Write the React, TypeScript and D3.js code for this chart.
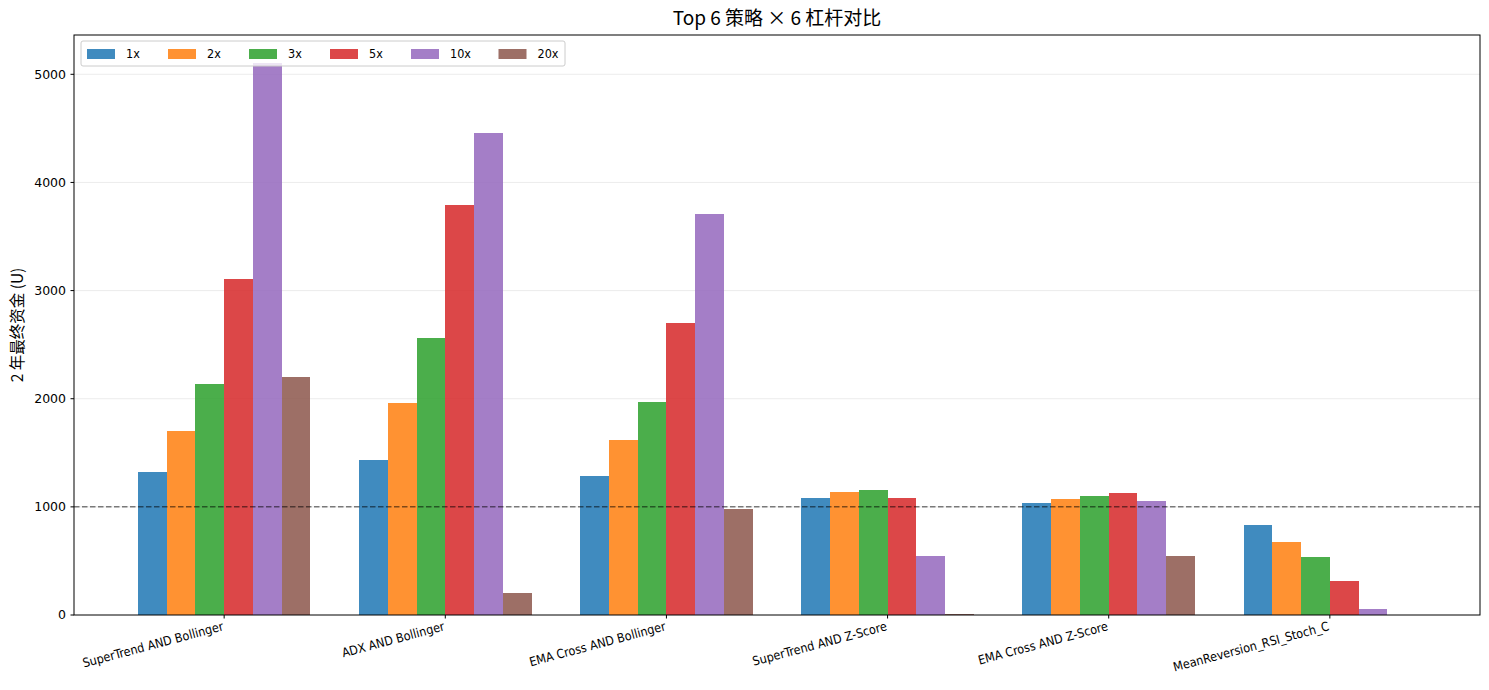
import * as d3 from 'd3';

// strategies on the x axis
const strategies = [
  'SuperTrend AND Bollinger',
  'ADX AND Bollinger',
  'EMA Cross AND Bollinger',
  'SuperTrend AND Z-Score',
  'EMA Cross AND Z-Score',
  'MeanReversion_RSI_Stoch_C',
];

const leverages = ['1x', '2x', '3x', '5x', '10x', '20x'];
const colors = ['#1f77b4', '#ff7f0e', '#2ca02c', '#d62728', '#9467bd', '#8c564b'];

// final capital per leverage, one value per strategy
const lev1x = [1322, 1432, 1285, 1081, 1035, 832];
const lev2x = [1700, 1959, 1617, 1137, 1072, 675];
const lev3x = [2135, 2560, 1969, 1155, 1100, 536];
const lev5x = [3105, 3789, 2699, 1081, 1128, 314];
const lev10x = [5108, 4455, 3706, 545, 1054, 55];
const lev20x = [2200, 203, 980, 9, 545, 0];
const series = [lev1x, lev2x, lev3x, lev5x, lev10x, lev20x];

const yTicks = [0, 1000, 2000, 3000, 4000, 5000];
const baseline = 1000;

const W = 1489;
const H = 690;
const margin = { top: 35, right: 9, bottom: 75, left: 74 };
const barW = 0.13;

const narrow = '"Liberation Sans Narrow", "DejaVu Sans Condensed", "Noto Sans CJK SC", sans-serif';
const cjk = '"Liberation Sans Narrow", "Noto Sans CJK SC", sans-serif';

export default function App() {
  const n = strategies.length;
  const half = (leverages.length / 2) * barW;
  const pad = 0.05 * (n - 1 + 2 * half);
  const x = d3.scaleLinear()
    .domain([-half - pad, n - 1 + half + pad])
    .range([margin.left, W - margin.right]);
  const yMax = (d3.max(series.flat()) || 0) * 1.05;
  const y = d3.scaleLinear().domain([0, yMax]).range([H - margin.bottom, margin.top]);

  const x0 = margin.left;
  const x1 = W - margin.right;
  const y0 = H - margin.bottom;
  const y1 = margin.top;

  // legend layout
  const legX = 81;
  const legY = 41;
  const colGap = 29;
  let cx = legX + 6;
  const legItems = leverages.map((l, i) => {
    const item = { label: l, color: colors[i], x: cx };
    cx += 28 + 11 + l.length * 6.5 + colGap;
    return item;
  });
  const legW = cx - legX - colGap + 8;

  return (
    <svg width={W} height={H} style={{ position: 'absolute', left: 0, top: 0, background: '#fff' }}>
      {/* grid */}
      {yTicks.filter(t => t > 0).map(t => (
        <line key={t} x1={x0} x2={x1} y1={y(t)} y2={y(t)} stroke="#b0b0b0" strokeOpacity={0.3} strokeWidth={0.8} />
      ))}

      {/* bars */}
      {series.map((vals, si) => (
        <g key={si} fill={colors[si]} fillOpacity={0.85} shapeRendering="crispEdges">
          {vals.map((v, ci) => {
            const cxv = ci + (si - (leverages.length - 1) / 2) * barW;
            return (
              <rect key={ci}
                x={x(cxv - barW / 2)}
                width={x(barW) - x(0)}
                y={y(v)}
                height={y(0) - y(v)} />
            );
          })}
        </g>
      ))}

      {/* baseline */}
      <line x1={x0} x2={x1} y1={y(baseline)} y2={y(baseline)} stroke="#000" strokeOpacity={0.5}
        strokeWidth={1.5} strokeDasharray="5.5,2.5" />

      {/* frame */}
      <rect x={x0} y={y1} width={x1 - x0} height={y0 - y1} fill="none" stroke="#000" strokeWidth={1} />

      {/* y axis */}
      {yTicks.map(t => (
        <g key={t} transform={`translate(${x0},${y(t)})`}>
          <line x1={-3.5} x2={0} stroke="#000" />
          <text x={-8} dy="0.35em" textAnchor="end" fontSize={12.5} fontFamily='"DejaVu Sans", sans-serif'
            fill="#000">{t}</text>
        </g>
      ))}

      {/* x axis */}
      {strategies.map((s, i) => (
        <g key={s} transform={`translate(${x(i)},${y0})`}>
          <line y1={0} y2={3.5} stroke="#000" />
          <text transform="translate(0,15) rotate(-15)" textAnchor="end" fontSize={12.5}
            fontFamily={narrow} fill="#000">{s}</text>
        </g>
      ))}

      {/* y label */}
      <text transform={`translate(23,${(y0 + y1) / 2}) rotate(-90)`} textAnchor="middle" fontSize={15.5}
        fontFamily={cjk} fill="#000">2 年最终资金 (U)</text>

      {/* title */}
      <text x={(x0 + x1) / 2} y={25} textAnchor="middle" fontSize={19} fontFamily={cjk} fill="#000">
        Top 6 策略 × 6 杠杆对比
      </text>

      {/* legend */}
      <rect x={legX} y={legY} width={legW} height={25} rx={2} fill="#fff" fillOpacity={0.8}
        stroke="#cccccc" strokeWidth={1} />
      {legItems.map(it => (
        <g key={it.label}>
          <rect x={it.x} y={legY + 8} width={28} height={10} fill={it.color} fillOpacity={0.85} />
          <text x={it.x + 39} y={legY + 13} dy="0.35em" fontSize={12.5} fontFamily={narrow} fill="#000">
            {it.label}
          </text>
        </g>
      ))}
    </svg>
  );
}
